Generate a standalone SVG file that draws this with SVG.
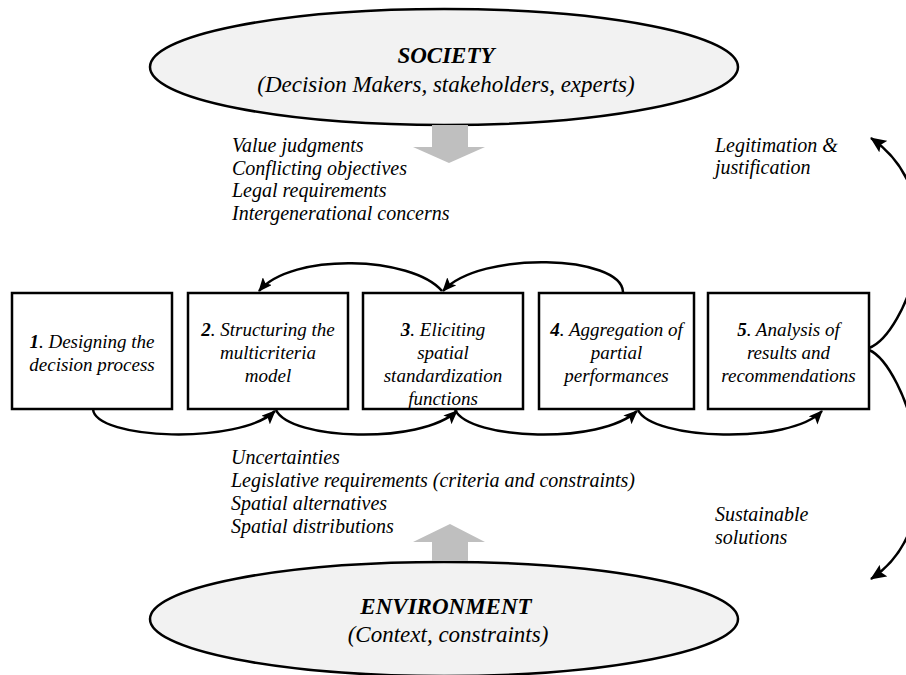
<svg xmlns="http://www.w3.org/2000/svg" width="906" height="675" viewBox="0 0 906 675">
<style>
  text { font-family: "Liberation Serif", "Times New Roman", serif; font-style: italic; fill: #000; }
  .ell { fill: #F2F2F2; stroke: #000; stroke-width: 2.5; }
  .box { fill: #fff; stroke: #000; stroke-width: 2.5; }
  .bt { font-size: 19px; text-anchor: middle; }
  .lab { font-size: 20px; }
  .et { font-size: 23px; text-anchor: middle; }
  .b { font-weight: bold; }
  .con { fill: none; stroke: #000; stroke-width: 2.5; }
  .blk { fill: #BFBFBF; stroke: none; }
</style>
<defs>
  <marker id="ah" viewBox="0 0 14 12" markerWidth="14" markerHeight="12" refX="13" refY="6" orient="auto" markerUnits="userSpaceOnUse">
    <path d="M0,0 L14,6 L0,12 L3,6 z" fill="#000"/>
  </marker>
  <marker id="ahL" viewBox="0 0 16 14" markerWidth="16" markerHeight="14" refX="15" refY="7" orient="auto" markerUnits="userSpaceOnUse">
    <path d="M0,0 L16,7 L0,14 L3,7 z" fill="#000"/>
  </marker>
</defs>

<g id="society">
  <ellipse class="ell" cx="444" cy="67" rx="294" ry="58"/>
  <text class="et b" x="446" y="63">SOCIETY</text>
  <text class="et" x="446" y="92">(Decision Makers, stakeholders, experts)</text>
</g>

<g id="environment">
  <ellipse class="ell" cx="444" cy="619" rx="294" ry="57"/>
  <text class="et b" x="446" y="614">ENVIRONMENT</text>
  <text class="et" x="448" y="642">(Context, constraints)</text>
</g>

<g id="society-arrow">
  <path class="blk" d="M432,125 L468,125 L468,147 L485,147 L449,163 L413,147 L432,147 z"/>
</g>
<g id="environment-arrow">
  <path class="blk" d="M432,561 L468,561 L468,542 L485,542 L450,524 L413,542 L432,542 z"/>
</g>

<g id="society-inputs">
  <text class="lab" x="232" y="152">Value judgments</text>
  <text class="lab" x="232" y="175">Conflicting objectives</text>
  <text class="lab" x="232" y="197">Legal requirements</text>
  <text class="lab" x="232" y="220">Intergenerational concerns</text>
</g>

<g id="environment-inputs">
  <text class="lab" x="231" y="464">Uncertainties</text>
  <text class="lab" x="231" y="487">Legislative requirements (criteria and constraints)</text>
  <text class="lab" x="231" y="510">Spatial alternatives</text>
  <text class="lab" x="231" y="533">Spatial distributions</text>
</g>

<g id="legitimation">
  <text class="lab" x="715" y="152">Legitimation &amp;</text>
  <text class="lab" x="715" y="174">justification</text>
</g>
<g id="sustainable">
  <text class="lab" x="715" y="521">Sustainable</text>
  <text class="lab" x="715" y="544">solutions</text>
</g>

<g id="step1">
  <rect class="box" x="12" y="293" width="160" height="116"/>
  <text class="bt" x="92" y="348"><tspan class="b">1</tspan>. Designing the</text>
  <text class="bt" x="92" y="370.5">decision process</text>
</g>
<g id="step2">
  <rect class="box" x="188" y="293" width="160" height="116"/>
  <text class="bt" x="268" y="336"><tspan class="b">2</tspan>. Structuring the</text>
  <text class="bt" x="268" y="359">multicriteria</text>
  <text class="bt" x="268" y="382">model</text>
</g>
<g id="step3">
  <rect class="box" x="363" y="293" width="160" height="116"/>
  <text class="bt" x="443" y="336"><tspan class="b">3</tspan>. Eliciting</text>
  <text class="bt" x="443" y="359">spatial</text>
  <text class="bt" x="443" y="382">standardization</text>
  <text class="bt" x="443" y="405">functions</text>
</g>
<g id="step4">
  <rect class="box" x="539" y="293" width="155" height="116"/>
  <text class="bt" x="616.5" y="336"><tspan class="b">4</tspan>. Aggregation of</text>
  <text class="bt" x="616.5" y="359">partial</text>
  <text class="bt" x="616.5" y="382">performances</text>
</g>
<g id="step5">
  <rect class="box" x="708" y="293" width="161" height="116"/>
  <text class="bt" x="788.5" y="336"><tspan class="b">5</tspan>. Analysis of</text>
  <text class="bt" x="788.5" y="359">results and</text>
  <text class="bt" x="788.5" y="382">recommendations</text>
</g>

<g id="connectors">
  <path class="con" d="M623,292 C622,255 480,250 443,291" marker-end="url(#ah)"/>
  <path class="con" d="M442,291 C412,256 292,252 259,291" marker-end="url(#ah)"/>
  <path class="con" d="M93,409 C95,440 240,445 275,411" marker-end="url(#ah)"/>
  <path class="con" d="M276,410 C290,440 420,445 457,411" marker-end="url(#ah)"/>
  <path class="con" d="M455,410 C470,440 600,445 637,411" marker-end="url(#ah)"/>
  <path class="con" d="M638,410 C652,440 790,445 822,411" marker-end="url(#ah)"/>
  <path class="con" d="M869,348 C905,335 960,200 871,138" marker-end="url(#ahL)"/>
  <path class="con" d="M869,350 C905,365 960,520 871,579" marker-end="url(#ahL)"/>
</g>
</svg>
